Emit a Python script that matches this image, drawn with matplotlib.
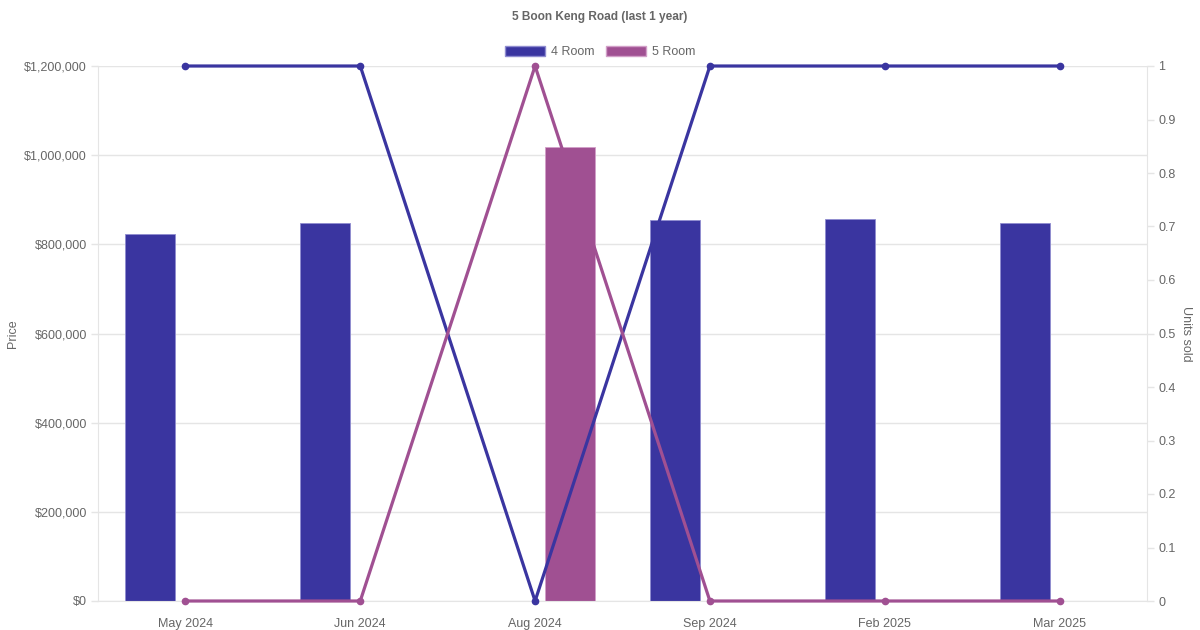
import matplotlib
matplotlib.use("Agg")
import matplotlib.pyplot as plt
import numpy as np
from matplotlib.patches import Patch

plt.rcParams['font.family'] = ['Liberation Sans', 'DejaVu Sans']

months = ["May 2024", "Jun 2024", "Aug 2024", "Sep 2024", "Feb 2025", "Mar 2025"]
price_4room = [823000, 848000, None, 854000, 857000, 848000]
price_5room = [None, None, 1018000, None, None, None]
units_4room = [1, 1, 0, 1, 1, 1]
units_5room = [0, 0, 1, 0, 0, 0]

c4 = "#3a35a0"
c5 = "#a05092"
e4 = "#8f8cd0"
e5 = "#d29fc8"
grey = "#666666"
grid = "#e5e5e5"

fig = plt.figure(figsize=(12, 6.3), dpi=100)
ax = fig.add_axes([98/1200, 1-601/630, (1147-98)/1200, (601-66)/630])
ax2 = ax.twinx()

x = np.arange(len(months))
w = 50/175
off = 0.2
for i in range(len(months)):
    if price_4room[i] is not None:
        ax.bar(x[i]-off, price_4room[i], width=w, color=c4, edgecolor=e4, linewidth=0.6, zorder=2)
    if price_5room[i] is not None:
        ax.bar(x[i]+off, price_5room[i], width=w, color=c5, edgecolor=e5, linewidth=0.6, zorder=2)

ax.set_xlim(-0.5, len(months)-0.5)
ax.set_ylim(0, 1200000)
ax.set_yticks(np.arange(0, 1200001, 200000))
ax.set_yticklabels(["$" + format(int(v), ",") for v in np.arange(0, 1200001, 200000)])
ax.set_xticks(x)
ax.set_xticklabels(months)
ax.grid(axis='y', color=grid, linewidth=1, zorder=0)
ax.set_axisbelow(True)
ax.tick_params(axis='y', colors=grey, labelsize=9, length=5, color=grid, width=1, pad=3)
ax.tick_params(axis='x', colors=grey, labelsize=9, length=0, pad=12)
ax.spines['top'].set_visible(False)
ax.spines['left'].set_color(grid)
ax.spines['bottom'].set_color(grid)
ax.spines['right'].set_visible(False)
ax.set_ylabel("Price", color=grey, fontsize=9, labelpad=4)

ax2.plot(x, units_4room, color=c4, linewidth=2.3, marker='o', markersize=4.5, zorder=5, clip_on=False)
ax2.plot(x, units_5room, color=c5, linewidth=2.3, marker='o', markersize=4.5, zorder=5, clip_on=False)
ax2.set_ylim(0, 1)
ax2.set_yticks(np.arange(0, 1.01, 0.1))
ax2.set_yticklabels(["0"] + ["%.1f" % v for v in np.arange(0.1, 0.95, 0.1)] + ["1"])
ax2.tick_params(axis='y', colors=grey, labelsize=9, length=5, color=grid, width=1, pad=3)
ax2.spines['right'].set_color(grid)
for s in ['top', 'left', 'bottom']:
    ax2.spines[s].set_visible(False)
ax2.set_ylabel("Units sold", color=grey, fontsize=9, rotation=270, labelpad=12)

ax.set_zorder(1)
ax2.set_zorder(2)
ax2.patch.set_visible(False)

fig.text(600/1200, 1-17/630, "5 Boon Keng Road (last 1 year)", ha='center', va='center',
         fontsize=8.6, fontweight='bold', color=grey)

handles = [Patch(facecolor=c4, edgecolor=e4), Patch(facecolor=c5, edgecolor=e5)]
leg = fig.legend(handles, ["4 Room", "5 Room"], loc='center', bbox_to_anchor=(600/1200, 1-52/630),
                 ncol=2, frameon=False, fontsize=9, handlelength=3.2, handleheight=0.85,
                 handletextpad=0.5, columnspacing=0.9, labelcolor=grey)

fig.savefig("out.png", dpi=100)
